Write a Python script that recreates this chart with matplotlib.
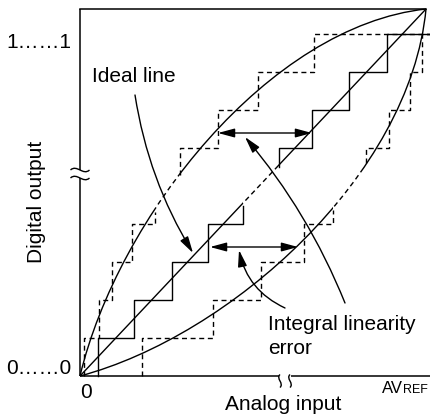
import matplotlib
matplotlib.use("Agg")
import matplotlib.pyplot as plt
from matplotlib.path import Path
from matplotlib.patches import PathPatch, FancyArrowPatch, Rectangle

# ---- drawing units: analog input (x) and digital output (y), ~1 unit = 1 px ----
X_FULL = 346          # AVREF (top right corner)
Y_FULL = 367          # full-scale top of the box
X_END = 350           # right end of the x axis line

code_levels = [0, 38, 76, 114, 152, 190, 228, 266, 304, 342]
ideal_steps = [18, 54, 92, 128, 163, 199, 232, 269, 307]
upper_steps = [4, 19, 32, 52, 75, 100, 138, 178, 234]
lower_steps = [62, 133, 181, 224, 253, 286, 309, 330, 342]
ideal_gap = [170, 209]
upper_gap = [164, 201]
lower_gap = [166, 213]

upper_ctrl = [(38, 159), (189, 350)]
lower_ctrl = [(150, 40), (330, 200)]
ideal_dash_x = [163, 196]
upper_dash_x = [75, 100]
lower_dash_x = [253, 282]

y_break = [198, 206]
x_break = [200, 210]

arrow_ideal = [(55, 281), (113, 123), 0.1]
arrow_ile_long = [(265, 73), (165, 239), 0.08]
arrow_ile_short = [(205, 68), (159, 126), -0.25]
span_upper = [(138, 243), (232, 243)]
span_lower = [(130, 129), (218, 129)]

FONT = "Liberation Sans"
LW = 1.0
DASH = (0, (3.6, 2.6))

fig = plt.figure(figsize=(4.3, 4.2), dpi=100)
ax = fig.add_axes([0, 0, 1, 1])
ax.set_xlim(-80, X_END)
ax.set_ylim(-44, 376)
ax.axis("off")

# ---- frame / axes lines ----
ax.plot([0, 0], [0, y_break[0]], color="k", lw=1.1, solid_capstyle="butt")
ax.plot([0, 0], [y_break[1], Y_FULL], color="k", lw=1.1, solid_capstyle="butt")
ax.plot([0, X_FULL], [Y_FULL, Y_FULL], color="k", lw=1.1)
ax.plot([0, x_break[0] - 1], [0, 0], color="k", lw=1.1, solid_capstyle="butt")
ax.plot([x_break[1] + 1, X_END], [0, 0], color="k", lw=1.1, solid_capstyle="butt")


def tilde_h(yc, w=19, h=3.0):
    verts = [(-w / 2, yc), (-w / 6, yc + 2 * h), (w / 6, yc - 2 * h), (w / 2, yc)]
    p = Path(verts, [Path.MOVETO, Path.CURVE4, Path.CURVE4, Path.CURVE4])
    ax.add_patch(PathPatch(p, fill=False, lw=1.0, ec="k"))


def tilde_v(xc, yc=-5, hh=6.5, a=2.2):
    verts = [(xc, yc + hh), (xc - 2 * a, yc + hh / 3), (xc + 2 * a, yc - hh / 3), (xc, yc - hh)]
    p = Path(verts, [Path.MOVETO, Path.CURVE4, Path.CURVE4, Path.CURVE4])
    ax.add_patch(PathPatch(p, fill=False, lw=1.0, ec="k"))


for yb in y_break:
    tilde_h(yb)
for xb in x_break:
    tilde_v(xb)


# ---- staircases ----
def stairs(steps, gap, **kw):
    lx, ly = [], []
    for k in range(5):
        lx += [steps[k], steps[k]]
        ly += [code_levels[k], code_levels[k + 1] if k < 4 else gap[0]]
    ax.plot(lx, ly, color="k", lw=LW, **kw)
    ux, uy = [], []
    for k in range(5, 9):
        ux += [steps[k], steps[k]]
        uy += [code_levels[k] if k > 5 else gap[1], code_levels[k + 1]]
    ux.append(X_END)
    uy.append(code_levels[9])
    ax.plot(ux, uy, color="k", lw=LW, **kw)


stairs(upper_steps, upper_gap, ls=DASH)
stairs(lower_steps, lower_gap, ls=DASH)
stairs(ideal_steps, ideal_gap, ls="-")


# ---- curves (solid with a dashed middle part) ----
def split_path(path, dash_x):
    for x0, x1, ls in [(-100, dash_x[0], "-"), (dash_x[0], dash_x[1], DASH),
                       (dash_x[1], 500, "-")]:
        patch = PathPatch(path, fill=False, lw=LW, ls=ls, ec="k")
        ax.add_patch(patch)
        patch.set_clip_path(Rectangle((x0, -100), x1 - x0, 600, transform=ax.transData))


def bezier(ctrl):
    verts = [(0, 0), ctrl[0], ctrl[1], (X_FULL, Y_FULL)]
    return Path(verts, [Path.MOVETO, Path.CURVE4, Path.CURVE4, Path.CURVE4])


split_path(bezier(upper_ctrl), upper_dash_x)
split_path(bezier(lower_ctrl), lower_dash_x)
split_path(Path([(0, 0), (X_FULL, Y_FULL)]), ideal_dash_x)


# ---- arrows ----
def arrow(a, b, rad=0.0, style="-|>"):
    ax.add_patch(FancyArrowPatch(a, b, arrowstyle=f"{style},head_length=1.0,head_width=0.27",
                                 connectionstyle=f"arc3,rad={rad}", mutation_scale=10,
                                 lw=LW, color="k", shrinkA=0, shrinkB=0))


arrow(arrow_ideal[0], arrow_ideal[1], arrow_ideal[2])
arrow(arrow_ile_long[0], arrow_ile_long[1], arrow_ile_long[2])
arrow(arrow_ile_short[0], arrow_ile_short[1], arrow_ile_short[2])
arrow(span_upper[0], span_upper[1], 0.0, "<|-|>")
arrow(span_lower[0], span_lower[1], 0.0, "<|-|>")

# ---- texts ----
fs = 15
ax.text(-41.5, 334, "1\u2026\u20261", fontsize=fs, family=FONT, ha="center", va="center")
ax.text(-41.5, 8, "0\u2026\u20260", fontsize=fs, family=FONT, ha="center", va="center")
ax.text(0, -17, "0", fontsize=fs, family=FONT, ha="left", va="center")
ax.text(-43, 174, "Digital output", fontsize=fs, family=FONT, ha="center", va="center",
        rotation=90)
ax.text(203, -29, "Analog input", fontsize=fs, family=FONT, ha="center", va="center")
ax.text(12, 299, "Ideal line", fontsize=fs, family=FONT, ha="left", va="center")
ax.text(188, 51, "Integral linearity", fontsize=fs, family=FONT, ha="left", va="center")
ax.text(188, 28, "error", fontsize=fs, family=FONT, ha="left", va="center")
t = ax.text(302, -20, "AV", fontsize=12, family=FONT, ha="left", va="bottom")
ax.annotate("REF", xycoords=t, xy=(1, 0), fontsize=9, family=FONT, ha="left",
            va="bottom")

fig.savefig("out.png", dpi=100)
